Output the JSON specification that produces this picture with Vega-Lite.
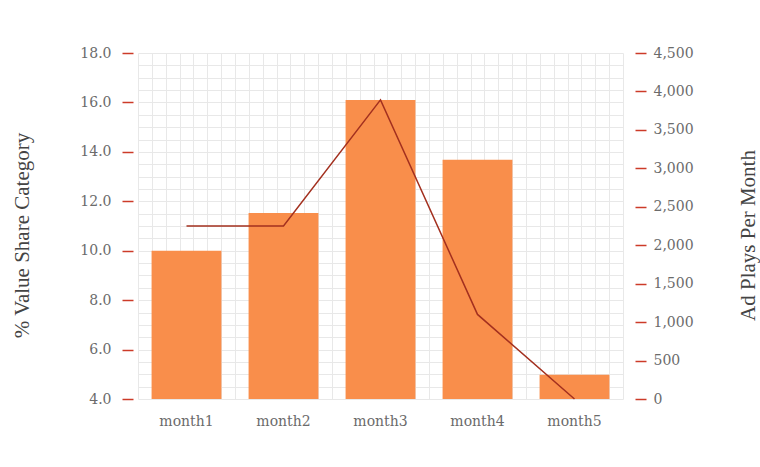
{
  "$schema": "https://vega.github.io/schema/vega-lite/v6.json",
  "width": 485,
  "height": 346,
  "autosize": "none",
  "padding": {"left": 138, "top": 53, "right": 137, "bottom": 68},
  "background": "white",
  "config": {
    "view": {"stroke": null},
    "axis": {"labelFont": "DejaVu Serif", "labelFontSize": 14, "labelColor": "#6b6b6b", "titleFont": "Liberation Serif", "titleFontSize": 21, "titleFontWeight": "normal", "titleColor": "#444444", "gridColor": "#e8e8e8", "gridWidth": 1, "tickWidth": 1.5}
  },
  "data": {"values": [
    {"month": "month1", "share": 10.0, "plays": 2250},
    {"month": "month2", "share": 11.53, "plays": 2250},
    {"month": "month3", "share": 16.1, "plays": 3890},
    {"month": "month4", "share": 13.68, "plays": 1100},
    {"month": "month5", "share": 4.98, "plays": 0}
  ]},
  "layer": [
    {
      "mark": {"type": "point", "opacity": 0},
      "encoding": {
        "x": {"datum": 0, "type": "quantitative", "scale": {"domain": [0, 35], "nice": false, "zero": false},
          "axis": {"orient": "top", "values": [0,1,2,3,4,5,6,7,8,9,10,11,12,13,14,15,16,17,18,19,20,21,22,23,24,25,26,27,28,29,30,31,32,33,34,35], "grid": true, "labels": false, "ticks": false, "domain": false, "title": null}}
      }
    },
    {
      "layer": [
        {
          "mark": {"type": "bar", "color": "#f98e4b", "clip": true},
          "encoding": {
            "x": {"field": "month", "type": "nominal", "sort": null,
              "scale": {"paddingInner": 0.28, "paddingOuter": 0.14},
              "axis": {"title": null, "labelAngle": 0, "ticks": false, "domain": false, "labelPadding": 15, "grid": false}},
            "y": {"field": "share", "type": "quantitative",
              "scale": {"domain": [4, 18], "zero": false, "nice": false},
              "axis": {"title": "% Value Share Category", "titleY": 182, "titlePadding": 47,
                "values": [4,4.5,5,5.5,6,6.5,7,7.5,8,8.5,9,9.5,10,10.5,11,11.5,12,12.5,13,13.5,14,14.5,15,15.5,16,16.5,17,17.5,18],
                "labelExpr": "datum.value % 2 === 0 ? format(datum.value, '.1f') : ''",
                "grid": true, "domain": false, "offset": 5, "tickSize": 11, "labelPadding": 11,
                "tickColor": "#cc3b28",
                "tickOpacity": {"condition": {"test": "datum.value % 2 === 0", "value": 1}, "value": 0}}}
          }
        },
        {
          "mark": {"type": "line", "color": "#a3301f", "strokeWidth": 1.5},
          "encoding": {
            "x": {"field": "month", "type": "nominal", "sort": null},
            "y": {"field": "plays", "type": "quantitative",
              "scale": {"domain": [0, 4500], "nice": false},
              "axis": {"orient": "right", "title": "Ad Plays Per Month", "titleAngle": -90, "titleY": 182, "titlePadding": 65,
                "values": [0,500,1000,1500,2000,2500,3000,3500,4000,4500], "format": ",d",
                "grid": false, "domain": false, "offset": 12, "tickSize": 11, "labelPadding": 7, "tickColor": "#cc3b28"}}
          }
        }
      ],
      "resolve": {"scale": {"y": "independent"}}
    }
  ],
  "resolve": {"scale": {"x": "independent"}}
}
